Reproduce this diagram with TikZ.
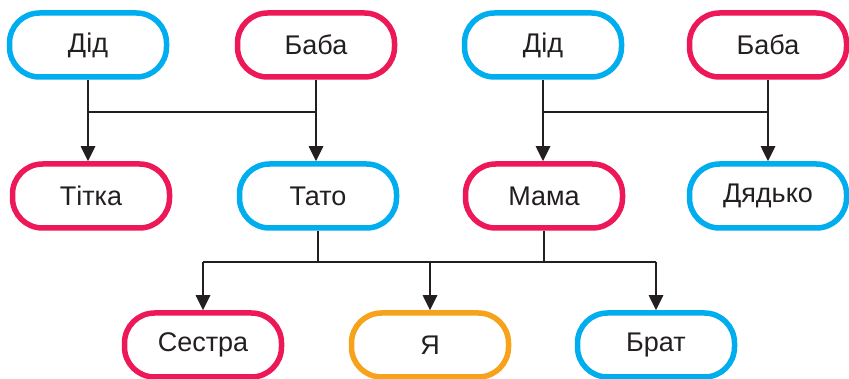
\documentclass[tikz,border=0pt]{standalone}
\usepackage{fontspec}
\setmainfont{Liberation Sans}
\usetikzlibrary{arrows.meta}
\definecolor{cblue}{HTML}{00AEEF}
\definecolor{cred}{HTML}{ED1858}
\definecolor{corange}{HTML}{F7A21B}
\definecolor{cline}{HTML}{231F20}
\begin{document}
\begin{tikzpicture}[x=1pt,y=-1pt,
  person/.style={draw, line width=5.5pt, rounded corners=30pt, minimum width=157pt, minimum height=64pt, inner sep=0pt, font=\fontsize{27}{31}\selectfont, text=cline},
  conn/.style={draw=cline, line width=2.6pt},
  arr/.style={conn, -{Triangle[length=15pt,width=14pt]}}]
\useasboundingbox (0,0) rectangle (849,379);
\node[person, draw=cblue] (d1) at (88,45) {Дід};
\node[person, draw=cred] (b1) at (316,45) {Баба};
\node[person, draw=cblue] (d2) at (543,45) {Дід};
\node[person, draw=cred] (b2) at (768,45) {Баба};
\node[person, draw=cred] (t) at (91,196) {Тітка};
\node[person, draw=cblue] (tato) at (318,196) {Тато};
\node[person, draw=cred] (mama) at (544,196) {Мама};
\node[person, draw=cblue] (dd) at (768,196) {Дядько};
\node[person, draw=cred] (s) at (203,345) {Сестра};
\node[person, draw=corange] (ya) at (430,345) {Я};
\node[person, draw=cblue] (br) at (656,345) {Брат};
% top left
\coordinate (h1l) at (88,112);
\coordinate (h1r) at (316,112);
\draw[conn] (h1l) -- (h1r);
\draw[arr] (d1.south) -- (d1.south |- t.north);
\draw[arr] (b1.south) -- (b1.south |- tato.north);
% top right
\coordinate (h2l) at (543,112);
\coordinate (h2r) at (768,112);
\draw[conn] (h2l) -- (h2r);
\draw[arr] (d2.south) -- (d2.south |- mama.north);
\draw[arr] (b2.south) -- (b2.south |- dd.north);
% bottom
\coordinate (hb) at (0,262);
\draw[conn] (tato.south) -- (tato.south |- hb);
\draw[conn] (mama.south) -- (mama.south |- hb);
\draw[conn] (s.north |- hb) -- (br.north |- hb);
\draw[arr] (s.north |- hb) -- (s.north);
\draw[arr] (ya.north |- hb) -- (ya.north);
\draw[arr] (br.north |- hb) -- (br.north);
\end{tikzpicture}
\end{document}
